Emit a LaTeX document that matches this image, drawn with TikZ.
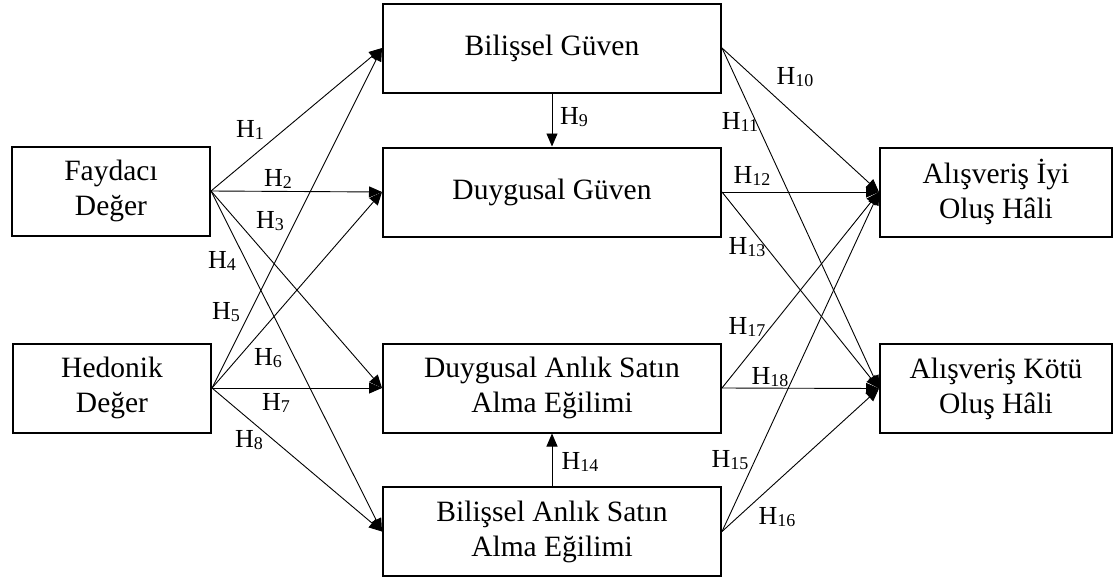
\documentclass[tikz,border=0pt]{standalone}
\usepackage{fontspec}
\setmainfont{Liberation Serif}
\usetikzlibrary{arrows.meta}
\newcommand{\hyp}[1]{H\raisebox{-0.08em}{\fontsize{18}{18}\selectfont #1}}
\begin{document}
\begin{tikzpicture}[x=1pt,y=-1pt,
  box/.style={draw, line width=2pt, minimum height=89pt, align=center, inner sep=0pt,
    font=\fontsize{29.5}{35}\selectfont},
  lbox/.style={box, minimum width=198pt},
  mbox/.style={box, minimum width=338pt},
  rbox/.style={box, minimum width=232pt},
  conn/.style={line width=0.9pt, -{Triangle[length=13pt,width=11pt]}},
  lab/.style={font=\fontsize{26}{26}\selectfont, inner sep=0pt}]
\useasboundingbox (0,0) rectangle (1119,581);
% boxes
\node[lbox] (fd) at (111,191) {Faydacı\\Değer};
\node[lbox] (hd) at (112,388) {Hedonik\\Değer};
\node[mbox] (bg) at (552,48) {Bilişsel Güven};
\node[mbox] (dg) at (552,192) {Duygusal Güven};
\node[mbox] (da) at (552,388) {Duygusal Anlık Satın\\Alma Eğilimi};
\node[mbox] (ba) at (552,531.5) {Bilişsel Anlık Satın\\Alma Eğilimi};
\node[rbox] (ai) at (996,192) {Alışveriş İyi\\Oluş Hâli};
\node[rbox] (ak) at (996,388.5) {Alışveriş Kötü\\Oluş Hâli};
% left fans
\foreach \t in {bg,dg,da,ba} {\draw[conn] (fd.east) -- (\t.west);}
\foreach \t in {bg,dg,da,ba} {\draw[conn] (hd.east) -- (\t.west);}
% vertical
\draw[conn] (bg.south) -- (dg.north);
\draw[conn] (ba.north) -- (da.south);
% right fans
\foreach \s in {bg,dg,da,ba} {
  \draw[conn] (\s.east) -- (ai.west);
  \draw[conn] (\s.east) -- (ak.west);
}
% labels
\node[lab] (h1) at (250,130) {\hyp{1}};
\node[lab] (h2) at (278,179) {\hyp{2}};
\node[lab] (h3) at (270,221) {\hyp{3}};
\node[lab] (h4) at (222,261) {\hyp{4}};
\node[lab] (h5) at (226,312) {\hyp{5}};
\node[lab] (h6) at (268,358) {\hyp{6}};
\node[lab] (h7) at (276,403) {\hyp{7}};
\node[lab] (h8) at (249,440) {\hyp{8}};
\node[lab] (h9) at (574,117) {\hyp{9}};
\node[lab] (h10) at (795,77) {\hyp{10}};
\node[lab] (h11) at (740,122) {\hyp{11}};
\node[lab] (h12) at (752,176) {\hyp{12}};
\node[lab] (h13) at (747,247) {\hyp{13}};
\node[lab] (h14) at (580,462) {\hyp{14}};
\node[lab] (h15) at (730,460) {\hyp{15}};
\node[lab] (h16) at (777,517) {\hyp{16}};
\node[lab] (h17) at (747,327) {\hyp{17}};
\node[lab] (h18) at (770,377) {\hyp{18}};
\end{tikzpicture}
\end{document}
